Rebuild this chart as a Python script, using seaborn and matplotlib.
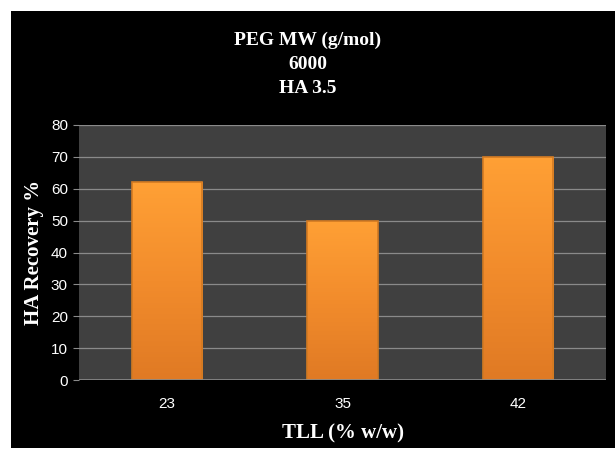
import matplotlib
matplotlib.use("Agg")
import matplotlib.pyplot as plt
import seaborn as sns
import numpy as np
import pandas as pd
from matplotlib.patches import Rectangle
from matplotlib.colors import LinearSegmentedColormap

# Data
tll = ["23", "35", "42"]
recovery = [62, 50, 70]
y_ticks = [0, 10, 20, 30, 40, 50, 60, 70, 80]

df = pd.DataFrame({"TLL": tll, "Recovery": recovery})

sns.set_style("dark")
plt.rcParams['font.family'] = ['Liberation Sans Narrow', 'Liberation Sans', 'DejaVu Sans']

fig, ax = plt.subplots(figsize=(6.15, 4.5), dpi=100)
fig.patch.set_facecolor("white")
# black panel with thin white margin at left/top/bottom
fig.patches.append(Rectangle((11 / 615, 2 / 450), 1 - 11 / 615, 437 / 450,
                             transform=fig.transFigure, facecolor="black",
                             edgecolor="none", zorder=-10))

sns.barplot(data=df, x="TLL", y="Recovery", color="#F7952F", width=0.4,
            edgecolor="#D27A22", linewidth=1.2, saturation=1, ax=ax, zorder=3)

# vertical orange gradient clipped to every bar
grad = LinearSegmentedColormap.from_list("bar", ["#E07A24", "#F28C2C", "#FFA035"])
for p in ax.patches:
    x0, y0 = p.get_x(), p.get_y()
    w, h = p.get_width(), p.get_height()
    im = ax.imshow(np.linspace(0, 1, 100).reshape(-1, 1), cmap=grad,
                   origin="lower", aspect="auto",
                   extent=(x0, x0 + w, y0, y0 + h), zorder=3.5)
    im.set_clip_path(p)
    p.set_zorder(4)
    p.set_facecolor("none")

ax.set_facecolor("#404040")
ax.set_xlim(-0.5, 2.5)
ax.set_ylim(0, 80)
ax.set_yticks(y_ticks)
ax.grid(axis="y", color="#8a8a8a", linewidth=0.9, zorder=0)
ax.grid(axis="x", visible=False)
for s in ax.spines.values():
    s.set_visible(False)
ax.axhline(0, color="#8a8a8a", linewidth=1.2, zorder=5)
ax.tick_params(axis="y", colors="white", labelsize=11, length=4, width=0.8,
               left=True, color="#8a8a8a", pad=4)
ax.tick_params(axis="x", colors="white", labelsize=11, length=0, pad=12)

ax.set_xlabel("TLL (% w/w)", family=['Liberation Serif'], fontweight="bold",
              fontsize=15, color="white")
ax.set_ylabel("HA Recovery %", family=['Liberation Serif'], fontweight="bold",
              fontsize=15, color="white")
ax.yaxis.set_label_coords(-0.085, 0.5)
ax.xaxis.set_label_coords(0.5, -0.208)
ax.xaxis.label.set_va("center")
ax.yaxis.label.set_va("center")
fig.suptitle("PEG MW (g/mol)\n6000\nHA 3.5", family=['Liberation Serif'],
             fontweight="bold", fontsize=14, color="white", y=0.93,
             linespacing=1.55)

plt.subplots_adjust(left=79 / 615, right=606 / 615, top=1 - 125 / 450,
                    bottom=1 - 380 / 450)
fig.savefig("out.png", dpi=100, facecolor=fig.get_facecolor())
